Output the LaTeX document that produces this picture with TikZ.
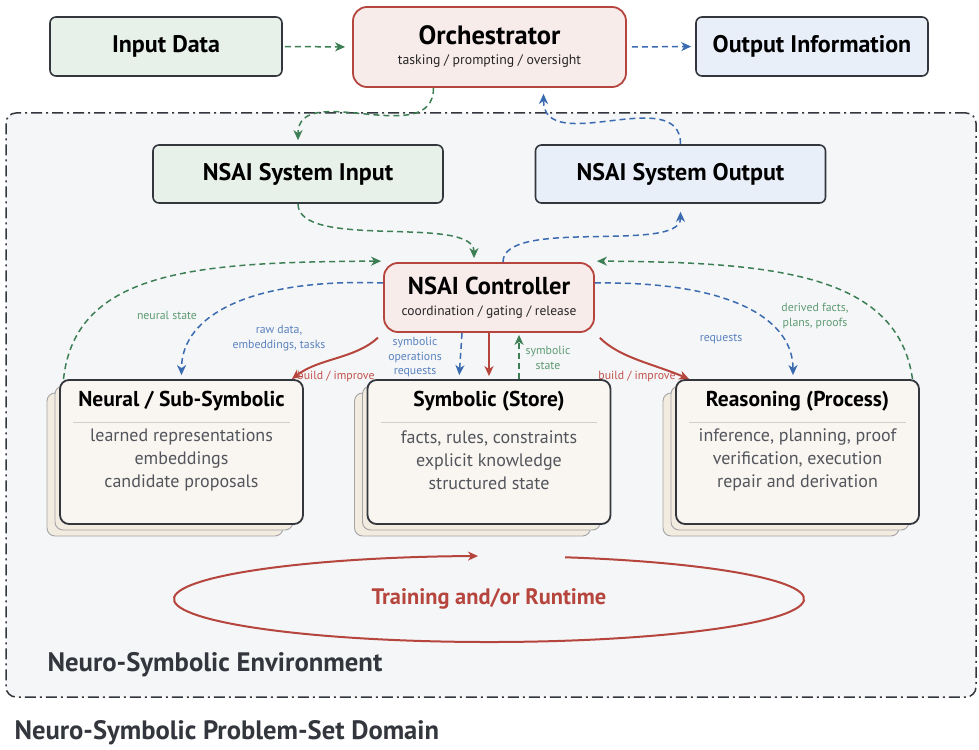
\documentclass[tikz,border=0pt]{standalone}
\usepackage{fontspec}
\setmainfont{PT Sans}
\usetikzlibrary{arrows.meta,calc}

\definecolor{ink}{HTML}{33373D}
\definecolor{bodytext}{HTML}{52565C}
\definecolor{envfill}{HTML}{F5F6F8}
\definecolor{greenfill}{HTML}{E7F1EA}
\definecolor{bluefill}{HTML}{E8EFF9}
\definecolor{pinkfill}{HTML}{F8ECEB}
\definecolor{cream}{HTML}{F9F5F0}
\definecolor{layerfill}{HTML}{F2EBE0}
\definecolor{layerline}{HTML}{A4A4A6}
\definecolor{divider}{HTML}{CFCFCF}
\definecolor{rust}{HTML}{B5453D}
\definecolor{leaf}{HTML}{3D7F55}
\definecolor{sea}{HTML}{3A6AAF}
\definecolor{leaflabel}{HTML}{5E9B72}
\definecolor{sealabel}{HTML}{5A82BE}
\definecolor{rustlabel}{HTML}{C0524A}

\newcommand\layeredbox[5]{%
  \fill[layerfill,draw=layerline,line width=0.9pt,rounded corners=8pt]
    (#2-134.5,#3-59) rectangle (#2+101.5,#3+84);
  \fill[layerfill,draw=layerline,line width=0.9pt,rounded corners=8pt]
    (#2-126.5,#3-66) rectangle (#2+111.5,#3+78);
  \node[stackbox] (#1) at (#2,#3) {};
  \node[boxtitle] (#1-t) at ($(#1.north)+(0,22)$) {#4};
  \draw[divider,line width=1pt] ($(#1.north west)+(14,43)$) -- ($(#1.north east)+(-14,43)$);
  \node[boxbody] (#1-b) at ($(#1.north)+(0,81)$) {#5};
}

\begin{document}
\begin{tikzpicture}[x=1pt,y=-1pt,
  plainbox/.style={draw=ink,line width=1.6pt,rounded corners=6pt,inner sep=0pt,
    font=\fontsize{24}{28}\selectfont\bfseries,text=black},
  redbox/.style={draw=rust,line width=1.8pt,fill=pinkfill,rounded corners=14pt,inner sep=0pt},
  stackbox/.style={draw=ink,line width=1.8pt,fill=cream,rounded corners=9pt,
    minimum width=243pt,minimum height=144pt,inner sep=0pt},
  boxtitle/.style={font=\fontsize{21.5}{25}\selectfont\bfseries,text=black,inner sep=0pt},
  boxbody/.style={font=\fontsize{18}{23}\selectfont,text=bodytext,align=center,inner sep=0pt},
  redtitle/.style={font=\fontsize{26.5}{30}\selectfont\bfseries,text=black,inner sep=0pt},
  redsub/.style={font=\fontsize{13.8}{16}\selectfont,text=black!85,inner sep=0pt},
  tag/.style={font=\fontsize{11.8}{14.5}\selectfont,align=center,inner sep=0pt},
  flowtip/.style={-{Stealth[length=10pt,width=9pt,inset=3pt]}},
  greenflow/.style={flowtip,draw=leaf,line width=1.5pt,dash pattern=on 6pt off 4pt,shorten >=4pt},
  blueflow/.style={flowtip,draw=sea,line width=1.5pt,dash pattern=on 6pt off 4pt,shorten >=4pt},
  redflow/.style={flowtip,draw=rust,line width=2pt}]
\useasboundingbox (0,0) rectangle (979,749);

% environment frame
\node[draw=ink,line width=1.5pt,fill=envfill,rounded corners=10pt,
  dash pattern=on 11pt off 4pt on 2pt off 4pt,
  minimum width=970pt,minimum height=584pt,inner sep=0pt] (env) at (491,405) {};
\node[anchor=west,text=ink,font=\fontsize{26.7}{30}\selectfont\bfseries] (envlabel) at (44,665)
  {Neuro-Symbolic Environment};
\node[anchor=west,text=ink,font=\fontsize{26.6}{30}\selectfont\bfseries] (domain) at (11,733)
  {Neuro-Symbolic Problem-Set Domain};

% top row
\node[plainbox,fill=greenfill,minimum width=232pt,minimum height=59pt] (input) at (166,46.5) {Input Data};
\node[redbox,minimum width=273pt,minimum height=80pt] (orch) at (489.5,47) {};
\node[redtitle] (orch-t) at (489.5,35) {Orchestrator};
\node[redsub] (orch-s) at (489.5,61) {tasking / prompting / oversight};
\node[plainbox,fill=bluefill,minimum width=232pt,minimum height=59pt] (output) at (812,46.5) {Output Information};

% system interface
\node[plainbox,fill=greenfill,minimum width=290pt,minimum height=58pt] (sysin) at (298,174) {NSAI System Input};
\node[plainbox,fill=bluefill,minimum width=290pt,minimum height=58pt] (sysout) at (680.5,174) {NSAI System Output};

% controller
\node[redbox,minimum width=210pt,minimum height=69pt] (ctrl) at (489,297.5) {};
\node[redtitle,font=\fontsize{24.5}{28}\selectfont\bfseries] (ctrl-t) at (489,286) {NSAI Controller};
\node[redsub,font=\fontsize{13.5}{16}\selectfont] (ctrl-s) at (489,312) {coordination / gating / release};

% component stacks
\layeredbox{neural}{181.5}{452}{Neural / Sub-Symbolic}{learned representations\\embeddings\\candidate proposals}
\layeredbox{symb}{489}{452}{Symbolic (Store)}{facts, rules, constraints\\explicit knowledge\\structured state}
\layeredbox{reas}{797.5}{452}{Reasoning (Process)}{inference, planning, proof\\verification, execution\\repair and derivation}

% runtime loop
\coordinate (loop) at (489,599);
\draw[rust,line width=2pt,flowtip] ([shift={(-76:315 and 43)}]loop)
  arc[start angle=-76,end angle=268,x radius=315,y radius=43];
\node[text=rust,font=\fontsize{22.4}{26}\selectfont\bfseries] (looplabel) at (loop) {Training and/or Runtime};

% top row flows
\draw[greenflow,shorten >=7pt,shorten <=2pt] (input.east) -- (orch.west);
\draw[blueflow,shorten <=5pt] (orch.east) -- (output.west);
\draw[greenflow] ([xshift=-56]orch.south) .. controls +(0,63) and +(0,-65) .. (sysin.north);
\draw[blueflow,shorten >=6pt] (sysout.north) .. controls +(0,-62) and +(0,70) .. ([xshift=54]orch.south);

% system interface to controller
\draw[greenflow] (sysin.south) .. controls +(0,47) and +(0,-48) .. ([xshift=-15]ctrl.north);
\draw[blueflow,shorten >=8pt] ([xshift=14]ctrl.north) .. controls +(0,-45) and +(0,50) .. (sysout.south);

% feedback to controller
\draw[greenflow,shorten >=2pt] ([xshift=-118]neural.north) .. controls +(12,-110) and +(-183,1) .. ([yshift=1]ctrl.north west);
\draw[greenflow,shorten >=2pt] ([xshift=115]reas.north) .. controls +(-15,-105) and +(180,1) .. ([yshift=1]ctrl.north east);
\node[tag,text=leaflabel] (lbl-ns) at (167,315) {neural state};
\node[tag,text=leaflabel] (lbl-df) at (815,316) {derived facts,\\plans, proofs};

% controller to components
\draw[blueflow] ([yshift=14.5]ctrl.west) .. controls +(-130,-5) and +(0,-65) .. (neural.north);
\draw[blueflow] ([yshift=14.5]ctrl.east) .. controls +(140,-2) and +(0,-58) .. ([xshift=-4.5]reas.north);
\node[tag,text=sealabel] (lbl-rd) at (279,338) {raw data,\\embeddings, tasks};
\node[tag,text=sealabel] (lbl-rq) at (721,339) {requests};

\draw[redflow,shorten <=7pt] (ctrl.south west) .. controls +(-28,26) and +(27,-21) .. ([xshift=-12]neural.north east);
\draw[redflow,shorten <=7pt] (ctrl.south east) .. controls +(25,25) and +(-35,-15) .. ([xshift=14]reas.north west);
\node[tag,text=rustlabel] (lbl-b1) at (336,376) {build / improve};
\node[tag,text=rustlabel] (lbl-b2) at (637,376) {build / improve};

\draw[blueflow] ([xshift=-27]ctrl.south) -- ([xshift=-30]symb.north);
\draw[redflow,shorten >=3pt] (ctrl.south) -- (symb.north);
\draw[greenflow,shorten >=2pt] ([xshift=30]symb.north) -- ([xshift=30]ctrl.south);
\node[tag,text=sealabel] (lbl-so) at (415,357) {symbolic\\operations\\requests};
\node[tag,text=leaflabel] (lbl-ss) at (548,358) {symbolic\\state};
\end{tikzpicture}
\end{document}
